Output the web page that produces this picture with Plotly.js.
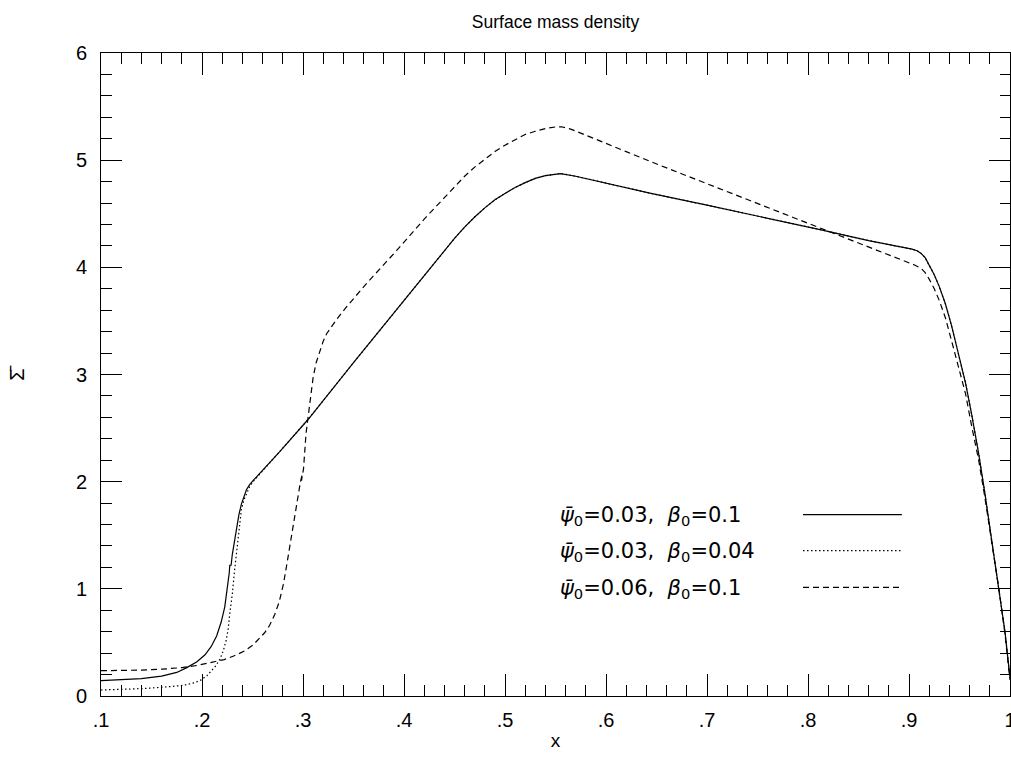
<!DOCTYPE html>
<html>
<head>
<meta charset="utf-8">
<script src="https://cdn.plot.ly/plotly-3.0.1.min.js"></script>
<style>html,body{margin:0;padding:0;background:#fff;}#chart{width:1011px;height:759px;}</style>
</head>
<body>
<div id="chart"></div>
<script>
// Series 1: psi0=0.03, beta0=0.1 (solid)
const solidX = [0.100,0.120,0.140,0.160,0.175,0.185,0.195,0.203,0.209,0.2145,0.219,0.2225,0.2255,0.2270,0.2275,0.2288,0.2300,0.232,0.234,0.2365,0.239,0.2415,0.244,0.247,0.2505,0.277,0.305,0.350,0.400,0.430,0.440,0.450,0.460,0.470,0.480,0.490,0.500,0.510,0.520,0.530,0.540,0.550,0.555,0.570,0.600,0.6445,0.700,0.750,0.813,0.860,0.895,0.903,0.908,0.912,0.916,0.920,0.925,0.930,0.936,0.942,0.949,0.956,0.962,0.969,0.975,0.979,0.984,0.989,0.995,1.000];
const solidY = [0.143,0.150,0.163,0.185,0.22,0.265,0.32,0.385,0.46,0.56,0.69,0.83,1.02,1.15,1.22,1.22,1.32,1.44,1.55,1.69,1.79,1.87,1.925,1.97,2.01,2.28,2.58,3.11,3.69,4.04,4.16,4.27,4.375,4.47,4.555,4.63,4.69,4.745,4.79,4.83,4.855,4.87,4.875,4.85,4.785,4.69,4.58,4.48,4.35,4.25,4.19,4.17,4.155,4.13,4.09,4.02,3.93,3.82,3.66,3.46,3.20,2.92,2.63,2.26,1.90,1.64,1.33,1.02,0.60,0.17];

// Series 2: psi0=0.03, beta0=0.04 (dotted)
const dotX = [0.100,0.120,0.143,0.165,0.182,0.193,0.199,0.205,0.209,0.2135,0.2175,0.221,0.224,0.226,0.2275,0.230,0.232,0.2345,0.2357,0.2375,0.239,0.2415,0.244,0.247,0.2505,0.277,0.305,0.350,0.400,0.430,0.440,0.450,0.460,0.470,0.480,0.490,0.500,0.510,0.520,0.530,0.540,0.550,0.555,0.570,0.600,0.6445,0.700,0.750,0.813,0.860,0.895,0.903,0.908,0.912,0.916,0.920,0.925,0.930,0.936,0.942,0.949,0.956,0.962,0.969,0.975,0.979,0.984,0.989,0.995,1.000];
const dotY = [0.056,0.060,0.07,0.085,0.10,0.125,0.15,0.19,0.23,0.28,0.34,0.42,0.52,0.63,0.77,0.95,1.15,1.35,1.49,1.63,1.74,1.83,1.89,1.95,2.00,2.28,2.58,3.11,3.69,4.04,4.16,4.27,4.375,4.47,4.555,4.63,4.69,4.745,4.79,4.83,4.855,4.87,4.875,4.85,4.785,4.69,4.58,4.48,4.35,4.25,4.19,4.17,4.155,4.13,4.09,4.02,3.93,3.82,3.66,3.46,3.20,2.92,2.63,2.26,1.90,1.64,1.33,1.02,0.60,0.17];

// Series 3: psi0=0.06, beta0=0.1 (dashed)
const dashX = [0.100,0.120,0.140,0.160,0.180,0.195,0.209,0.222,0.232,0.242,0.2505,0.257,0.262,0.267,0.272,0.2765,0.2805,0.2835,0.287,0.290,0.295,0.2975,0.2990,0.2985,0.3005,0.303,0.305,0.3075,0.310,0.313,0.3168,0.320,0.3234,0.333,0.343,0.363,0.393,0.420,0.440,0.450,0.460,0.470,0.480,0.490,0.500,0.510,0.520,0.530,0.540,0.550,0.556,0.565,0.588,0.620,0.654,0.700,0.750,0.813,0.860,0.906,0.912,0.916,0.920,0.925,0.930,0.936,0.942,0.949,0.956,0.962,0.969,0.975,0.979,0.984,0.989,0.995,1.000];
const dashY = [0.236,0.238,0.242,0.25,0.265,0.285,0.31,0.34,0.375,0.42,0.475,0.535,0.59,0.66,0.76,0.88,1.04,1.20,1.40,1.58,1.89,2.00,2.06,2.01,2.12,2.45,2.60,2.80,2.97,3.11,3.23,3.31,3.38,3.51,3.63,3.85,4.16,4.45,4.65,4.755,4.85,4.935,5.01,5.08,5.14,5.19,5.24,5.27,5.295,5.31,5.312,5.29,5.20,5.08,4.95,4.78,4.60,4.36,4.19,4.02,3.99,3.95,3.89,3.80,3.69,3.53,3.32,3.08,2.82,2.52,2.20,1.86,1.62,1.31,1.00,0.58,0.15];

const xTickVals = [0.1,0.2,0.3,0.4,0.5,0.6,0.7,0.8,0.9,1.0];
const xTickText = ['.1','.2','.3','.4','.5','.6','.7','.8','.9','1'];
const yTickVals = [0,1,2,3,4,5,6];
const yTickText = ['0','1','2','3','4','5','6'];

const legendLabels = [
  '<i>\u03C8\u0304</i><sub>0</sub>=0.03,\u00a0\u00a0<i>\u03B2</i><sub>0</sub>=0.1',
  '<i>\u03C8\u0304</i><sub>0</sub>=0.03,\u00a0\u00a0<i>\u03B2</i><sub>0</sub>=0.04',
  '<i>\u03C8\u0304</i><sub>0</sub>=0.06,\u00a0\u00a0<i>\u03B2</i><sub>0</sub>=0.1'
];

const DASH = '6px,4px';
const DOT = '1.5px,2.5px';
const dashes = ['solid', DOT, DASH];

const traces = [
  {x: solidX, y: solidY, mode: 'lines', line: {color: 'black', width: 1.2, dash: 'solid'}, hoverinfo: 'skip'},
  {x: dotX, y: dotY, mode: 'lines', line: {color: 'black', width: 1.2, dash: DOT}, hoverinfo: 'skip'},
  {x: dashX, y: dashY, mode: 'lines', line: {color: 'black', width: 1.2, dash: DASH}, hoverinfo: 'skip'}
];

const legY = [0.280, 0.224, 0.167];
const annotations = legendLabels.map((t, i) => ({
  text: t, xref: 'paper', yref: 'paper', x: 0.503, y: legY[i],
  xanchor: 'left', yanchor: 'middle', showarrow: false,
  font: {family: 'DejaVu Sans', size: 21, color: 'black'}
}));
const shapes = dashes.map((d, i) => ({
  type: 'line', xref: 'paper', yref: 'paper', x0: 0.7723, x1: 0.881,
  y0: legY[i] + 0.002, y1: legY[i] + 0.002,
  line: {color: 'black', width: 1.2, dash: d}
}));

const FONT = 'Liberation Sans, Arial, sans-serif';
const axisCommon = {
  ticks: 'inside', tickcolor: 'black', tickwidth: 1,
  showline: true, linecolor: 'black', linewidth: 1, mirror: 'allticks',
  showgrid: false, zeroline: false, ticklabeloverflow: 'allow',
  tickfont: {family: FONT, size: 20, color: 'black'}
};

const layout = {
  width: 1011, height: 759,
  margin: {l: 101, r: 1, t: 53, b: 63},
  paper_bgcolor: 'white', plot_bgcolor: 'white',
  showlegend: false,
  title: {text: 'Surface mass density', x: 0.5, xref: 'paper', y: 0.971, yref: 'container', yanchor: 'middle',
          font: {family: FONT, size: 17.5, color: 'black'}},
  xaxis: Object.assign({}, axisCommon, {
    range: [0.1, 1.0], tickmode: 'array', tickvals: xTickVals, ticktext: xTickText,
    ticklen: 22, ticklabelstandoff: 6,
    minor: {ticks: 'inside', ticklen: 11, tickmode: 'linear', tick0: 0.1, dtick: 0.02, tickcolor: 'black', tickwidth: 1, showgrid: false},
    title: {text: 'x', standoff: 3, font: {family: FONT, size: 19, color: 'black'}}
  }),
  yaxis: Object.assign({}, axisCommon, {
    range: [0, 6], tickmode: 'array', tickvals: yTickVals, ticktext: yTickText,
    ticklen: 21, ticklabelstandoff: 9,
    minor: {ticks: 'inside', ticklen: 10.5, tickmode: 'linear', tick0: 0, dtick: 0.2, tickcolor: 'black', tickwidth: 1, showgrid: false},
    title: {text: '\u03A3\u0304', standoff: 45, font: {family: FONT, size: 20, color: 'black'}}
  }),
  annotations: annotations,
  shapes: shapes
};

Plotly.newPlot('chart', traces, layout, {staticPlot: true, displayModeBar: false});
</script>
</body>
</html>
